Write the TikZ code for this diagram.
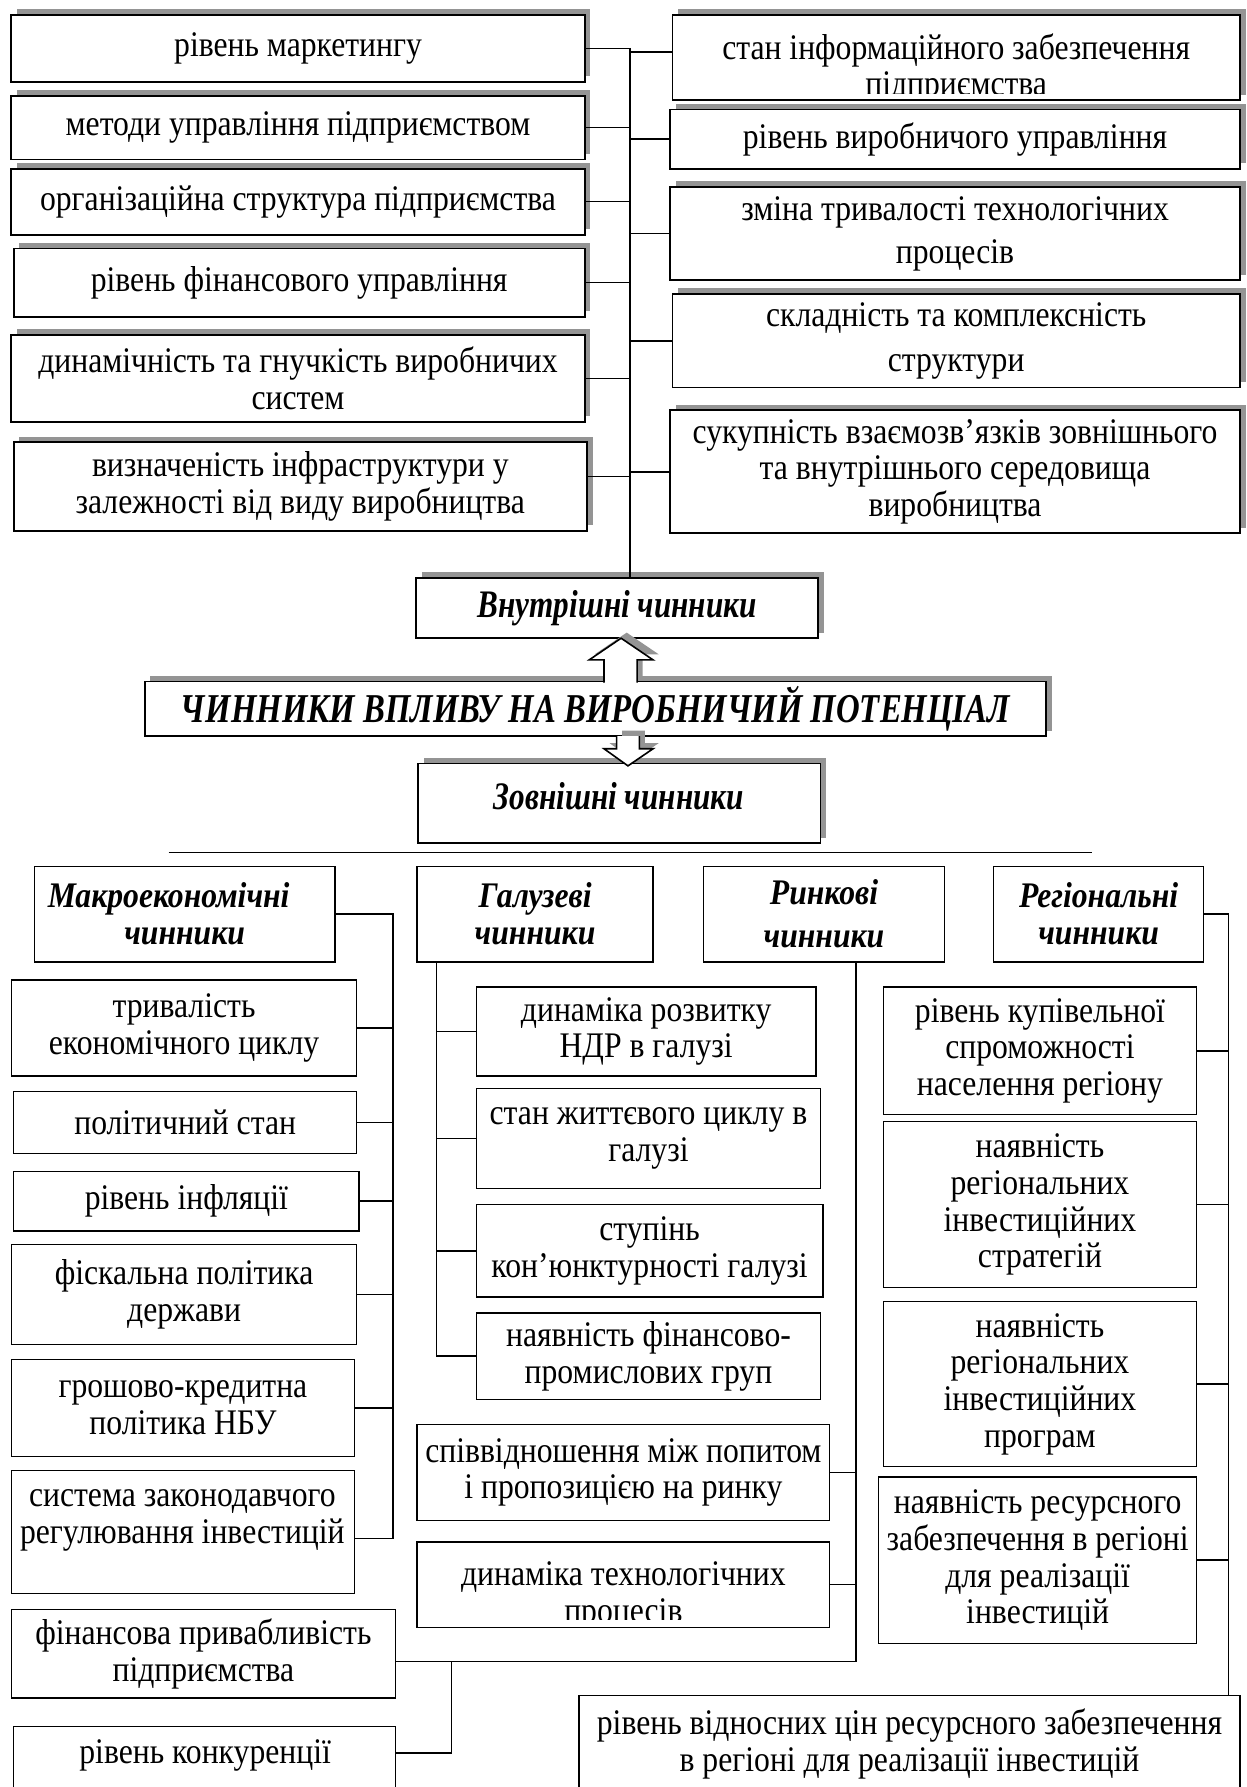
\documentclass[tikz,border=0pt]{standalone}
\usepackage{fontspec}
\setmainfont{Liberation Serif}[FakeStretch=0.88]
\newfontfamily\condf{Liberation Serif}[FakeStretch=0.8]
\usetikzlibrary{shadows,calc}
\newcommand\bodyf{\fontsize{18}{18.4}\selectfont}
\newcommand\hdf{\fontsize{18}{18.4}\selectfont\bfseries\itshape}
\newcommand\vnf{\condf\fontsize{19.5}{21}\selectfont\bfseries\itshape}
\newcommand\ttlf{\condf\fontsize{20.5}{23}\selectfont\bfseries\itshape}
\newcommand\fbx[7][]{\node[#1,minimum width={(#5-#3)*0.57pt},minimum height={(#6-#4)*0.57pt}] (#2) at ({(#3+#5)/2},{(#4+#6)/2}) {#7};}
\begin{document}
\begin{tikzpicture}[x=0.57pt,y=-0.57pt,
 tb/.style={draw,fill=white,line width=0.9pt,inner sep=1pt,outer sep=0pt,align=center,font=\bodyf,general shadow={fill=black!42,shadow xshift=2.8pt,shadow yshift=2.8pt}},
 bb/.style={draw,fill=white,line width=0.65pt,inner sep=1pt,outer sep=0pt,align=center,font=\bodyf},
 hb/.style={bb,font=\hdf},
 tx/.style={align=center,font=\bodyf,inner sep=0pt},
 ln/.style={line width=0.75pt},
 arr/.style={line width=0.8pt,line join=miter},
 shd/.style={fill=black!42,shift={(2.8pt,2.8pt)}}]
\useasboundingbox (0,0) rectangle (1094,1568);
\fill[white] (0,0) rectangle (1094,1568);

% ---------- top: internal factors ----------
\fbx[tb]{L1}{10}{13}{513}{72}{рівень маркетингу}
\fbx[tb]{L2}{10}{84}{513}{140}{методи управління підприємством}
\fbx[tb]{L3}{10}{148}{513}{206}{організаційна структура підприємства}
\fbx[tb]{L4}{12}{218}{513}{278}{рівень фінансового управління}
\fbx[tb]{L5}{10}{294}{513}{370}{динамічність та гнучкість виробничих\\систем}
\fbx[tb]{L6}{12}{388}{515}{466}{визначеність інфраструктури у\\залежності від виду виробництва}

\fbx[tb]{R1}{590}{13}{1088}{88}{}
\begin{scope}
\clip (592,15) rectangle (1086,82);
\node[tx] (R1t) at (839,60) {стан інформаційного забезпечення\\підприємства};
\end{scope}
\fbx[tb]{R2}{588}{96}{1088}{148}{рівень виробничого управління}
\fbx[tb]{R3}{588}{164}{1088}{246}{зміна тривалості технологічних\\[3pt]процесів}
\fbx[tb]{R4}{590}{258}{1088}{340}{складність та комплексність\\[4pt]структури}
\fbx[tb]{R5}{588}{360}{1088}{468}{сукупність взаємозв’язків зовнішнього\\та внутрішнього середовища\\виробництва}

% ---------- centre ----------
\fbx[tb,font=\vnf]{VN}{365}{507}{718}{560}{Внутрішні чинники}
\fbx[tb,font=\ttlf]{T}{127}{598}{918}{646}{ЧИННИКИ ВПЛИВУ НА ВИРОБНИЧИЙ ПОТЕНЦІАЛ}
\fbx[tb]{ZN}{367}{670}{720}{740}{}
\node[tx,font=\vnf] (ZNt) at (543,699) {Зовнішні чинники};

% block arrows
\path[shd] (545,560) -- (573,579) -- (559,579) -- (559,598) -- (530,598) -- (530,579) -- (517,579) -- cycle;
\fill[white] (545,560) -- (573,579) -- (559,579) -- (559,599) -- (530,599) -- (530,579) -- (517,579) -- cycle;
\draw[arr] (530,599) -- (530,579) -- (517,579) -- (545,560) -- (573,579) -- (559,579) -- (559,599);

\path[shd] (541,646) -- (541,657) -- (530,657) -- (551,672) -- (573,657) -- (561,657) -- (561,646) -- cycle;
\fill[white] (541,646) -- (541,657) -- (530,657) -- (551,672) -- (573,657) -- (561,657) -- (561,646) -- cycle;
\draw[arr] (541,646) -- (541,657) -- (530,657) -- (551,672) -- (573,657) -- (561,657) -- (561,646);

% top connectors
\coordinate (tt) at (553,42);
\draw[ln] (tt) -- (tt |- VN.north);
\foreach \n in {L1,L2,L3,L4,L5} \draw[ln] (\n.east) -- (\n.east -| tt);
\draw[ln] ($(L6.east)+(0,-9)$) -- ($(L6.east -| tt)+(0,-9)$);
\draw[ln] ($(R1.west)+(0,-5)$) -- ($(R1.west -| tt)+(0,-5)$);
\foreach \n in {R2,R3,R4,R5} \draw[ln] (\n.west) -- (\n.west -| tt);

% separator line
\coordinate (s1) at (148,748);
\coordinate (s2) at (958,748);
\draw[ln] (s1) -- (s2);

% ---------- bottom: external factors ----------
\fbx[hb]{MH}{30}{760}{294}{844}{Макроекономічні\hspace*{16pt}\\чинники}
\fbx[hb]{GH}{366}{760}{573}{844}{Галузеві\\чинники}
\fbx[hb]{KH}{617}{760}{829}{844}{Ринкові\\[3pt]чинники}
\fbx[hb]{RH}{872}{760}{1056}{844}{Регіональні\\чинники}

\fbx[bb]{M1}{10}{860}{313}{944}{тривалість\\економічного циклу}
\fbx[bb]{M2}{12}{958}{313}{1012}{політичний стан}
\fbx[bb]{M3}{12}{1028}{315}{1080}{рівень інфляції}
\fbx[bb]{M4}{10}{1092}{313}{1180}{фіскальна політика\\держави}
\fbx[bb]{M5}{10}{1193}{311}{1278}{грошово-кредитна\\політика НБУ}
\fbx[bb]{M6}{10}{1290}{311}{1398}{}
\node[tx] (M6t) at (160,1334) {система законодавчого\\регулювання інвестицій};

\fbx[bb]{G1}{418}{866}{716}{944}{динаміка розвитку\\НДР в галузі}
\fbx[bb]{G2}{418}{955}{720}{1043}{стан життєвого циклу в\\галузі}
\fbx[bb]{G3}{418}{1057}{722}{1138}{ступінь\\кон’юнктурності галузі}
\fbx[bb]{G4}{418}{1152}{720}{1228}{наявність фінансово-\\промислових груп}

\fbx[bb]{K1}{366}{1250}{728}{1334}{співвідношення між попитом\\і пропозицією на ринку}
\fbx[bb]{K2}{366}{1353}{728}{1428}{}
\begin{scope}
\clip (368,1355) rectangle (726,1421);
\node[tx] (K2t) at (547,1400) {динаміка технологічних\\процесів};
\end{scope}
\fbx[bb]{K3}{10}{1412}{347}{1490}{фінансова привабливість\\підприємства}
\fbx[bb]{K4}{12}{1515}{347}{1590}{}
\node[tx] (K4t) at (180,1540) {рівень конкуренції};

\fbx[bb]{Re1}{775}{866}{1050}{978}{рівень купівельної\\спроможності\\населення регіону}
\fbx[bb]{Re2}{775}{984}{1050}{1130}{наявність\\регіональних\\інвестиційних\\стратегій}
\fbx[bb]{Re3}{775}{1142}{1050}{1287}{наявність\\регіональних\\інвестиційних\\програм}
\fbx[bb]{Re4}{771}{1296}{1050}{1442}{наявність ресурсного\\забезпечення в регіоні\\для реалізації\\інвестицій}
\fbx[bb]{Re5}{508}{1488}{1088}{1600}{}
\node[tx] (Re5t) at (798,1530) {рівень відносних цін ресурсного забезпечення\\в регіоні для реалізації інвестицій};

% macro connectors
\coordinate (mt) at (345,802);
\coordinate (mb) at (345,1350);
\draw[ln] (MH.east) -- (mt) -- (mb) -- (mb -| M6.east);
\foreach \n in {M1,M2,M3,M4,M5} \draw[ln] (\n.east) -- (\n.east -| mt);

% branch connectors
\coordinate (gt) at (383,844);
\draw[ln] (gt) -- (gt |- G4.west) -- (G4.west);
\foreach \n in {G1,G2,G3} \draw[ln] (\n.west) -- (\n.west -| gt);

% market connectors
\coordinate (kt) at (751,844);
\coordinate (kb) at (751,1458);
\coordinate (kj) at (396,1458);
\coordinate (kk) at (396,1538);
\draw[ln] (kt) -- (kb) -- (kb -| K3.east);
\draw[ln] (kj) -- (kk) -- (kk -| K4.east);
\foreach \n in {K1,K2} \draw[ln] (\n.east) -- (\n.east -| kt);

% regional connectors
\coordinate (rt) at (1078,802);
\draw[ln] (RH.east) -- (rt) -- (rt |- Re5.north);
\foreach \n in {Re1,Re2,Re3,Re4} \draw[ln] (\n.east) -- (\n.east -| rt);
\end{tikzpicture}
\end{document}
